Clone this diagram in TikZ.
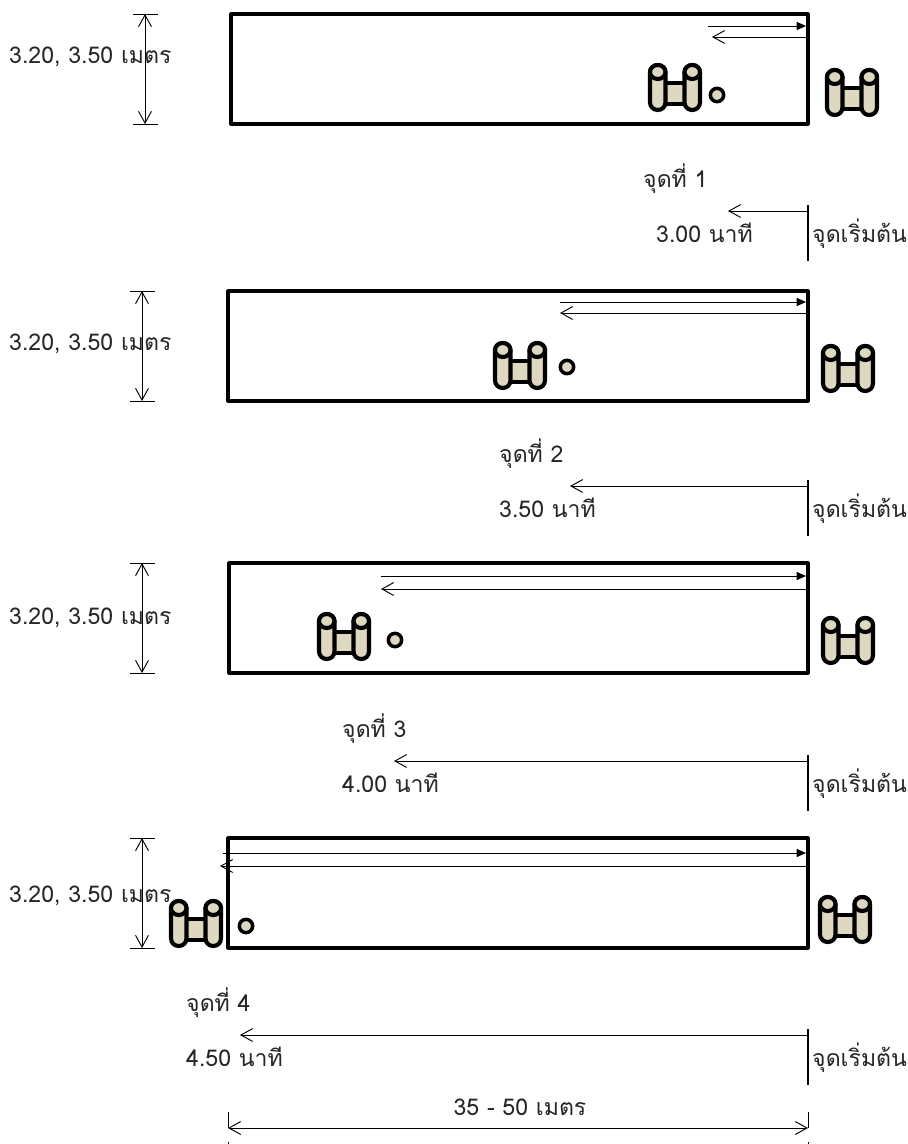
\documentclass[tikz,border=0pt]{standalone}
\usepackage{fontspec}
\newfontfamily\thaifont[Script=Thai]{Loma}
\usetikzlibrary{arrows.meta, fit}
\definecolor{cTan}{RGB}{222,216,192}

\begin{document}
\begin{tikzpicture}[x=0.03cm, y=-0.03cm,
            tank/.style={draw=black, line width=2.6pt, inner sep=0pt, outer sep=0pt, line join=round},
            lbl/.style={anchor=base west, inner sep=0pt, font=\thaifont\fontsize{19.7}{23}\selectfont, text=black!85},
            fwd/.style={-{Triangle[length=8pt, width=7pt]}, line width=0.8pt},
            bck/.style={-{Straight Barb[length=10pt, width=11pt]}, line width=0.8pt},
            dimn/.style={{Straight Barb[length=10pt, width=11pt]}-{Straight Barb[length=10pt, width=11pt]}, line width=0.8pt},
            tick/.style={line width=0.8pt},
            startline/.style={line width=1.6pt},
            tube/.style={draw=black, fill=cTan, line width=3.5pt},
            ball/.style={circle, draw=black, fill=cTan, line width=3pt, minimum size=0.4cm, inner sep=0pt},
            binoc/.pic={
                \draw[tube] (17,20) rectangle (37,41);
                \draw[tube, rounded corners=6.5pt] (2,2) rectangle (17.5,47);
                \draw[tube, rounded corners=6.5pt] (36.5,2) rectangle (52,47);
                \draw[tube] (9.75,9) ellipse (7.75 and 7);
                \draw[tube] (44.25,9) ellipse (7.75 and 7);
            }]
            \useasboundingbox (0,0) rectangle (908,1144);
            % one row per measuring point
            \foreach \n/\xl/\yt/\xf/\xb/\yf/\yb/\xc/\yc/\xo/\yo/\xr/\yr/\xd/\yl/\xt/\xm/\xa/\ya/\tm in {
                1/231/14/708/712/26/37/648/63/717/95/825/68/145/56/643/656/728/211/{3.00},
                2/228/291/560/560/302/313/493/341/567/367/821/344/142/343/499/499/570/486/{3.50},
                3/229/563/381/381/576/589/317/612/395/640/821/616/142/617/342/342/394/761/{4.00},
                4/228/838/223/220/853/866/169/899/246/926/818/895/142/895/186/186/240/1035/{4.50}} {
                \coordinate (tl\n) at (\xl,\yt);
                \coordinate (br\n) at (808,\yt+110);
                \node[tank, fit=(tl\n)(br\n)] (tank\n) {};
                \coordinate (fw\n) at (\xf,\yf);
                \coordinate (fe\n) at (806,\yf);
                \coordinate (bk\n) at (\xb,\yb);
                \coordinate (be\n) at (806,\yb);
                \draw[fwd] (fw\n) -- (fe\n);
                \draw[bck] (be\n) -- (bk\n);
                \pic (inner\n) at (\xc,\yc) {binoc};
                \pic (outer\n) at (\xr,\yr) {binoc};
                \node[ball] (ball\n) at (\xo,\yo) {};
                % width of the tank
                \coordinate (dt\n) at (\xd,\yt);
                \coordinate (db\n) at (\xd,\yt+110);
                \coordinate (dta\n) at (\xd-12,\yt);
                \coordinate (dtb\n) at (\xd+13,\yt);
                \coordinate (dba\n) at (\xd-12,\yt+110);
                \coordinate (dbb\n) at (\xd+13,\yt+110);
                \draw[tick] (dta\n) -- (dtb\n);
                \draw[tick] (dba\n) -- (dbb\n);
                \draw[dimn] (dt\n) -- (db\n);
                \node[lbl] (wd\n) at (9,\yl+7) {3.20, 3.50 เมตร};
                % time and start
                \node[lbl] (pt\n) at (\xt,\ya-24) {จุดที่ \n};
                \coordinate (so\n) at (808,\ya);
                \coordinate (ar\n) at (\xa,\ya);
                \coordinate (st\n) at (808,\ya-6);
                \coordinate (sb\n) at (808,\ya+50);
                \draw[startline] (st\n) -- (sb\n);
                \draw[bck] (so\n) -- (ar\n);
                \node[lbl] (time\n) at (\xm,\ya+31) {\tm{} นาที};
                \node[lbl] (start\n) at (812,\ya+31) {จุดเริ่มต้น};
            }
            % length of the tank
            \coordinate (la) at (228,1128);
            \coordinate (lb) at (808,1128);
            \coordinate (lat) at (228,1112);
            \coordinate (lab) at (228,1144);
            \coordinate (lbt) at (808,1112);
            \coordinate (lbb) at (808,1144);
            \draw[tick, dash pattern=on 13.6pt off 11.9pt] (lat) -- (lab);
            \draw[tick, dash pattern=on 13.6pt off 11.9pt] (lbt) -- (lbb);
            \draw[dimn] (la) -- (lb);
            \node[lbl, anchor=base] (len) at (520,1115) {35 - 50 เมตร};
        \end{tikzpicture}
\end{document}
